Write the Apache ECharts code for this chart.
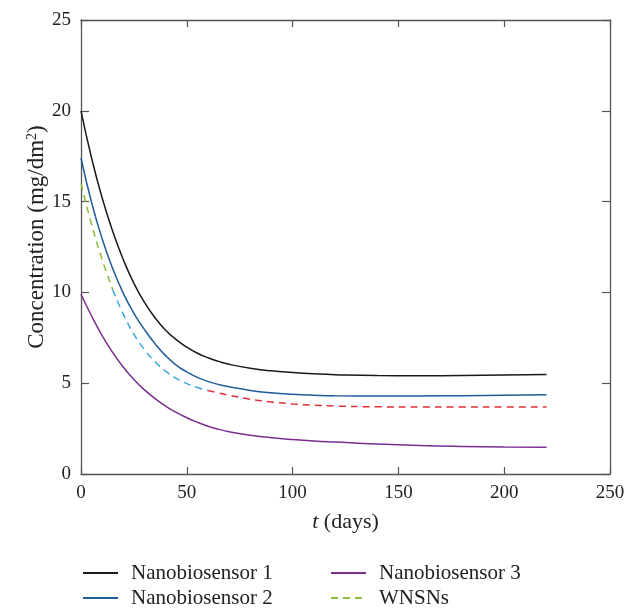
<!DOCTYPE html>
<html>
<head>
<meta charset="utf-8">
<script src="https://cdn.jsdelivr.net/npm/echarts@6/dist/echarts.min.js"></script>
<style>html,body{margin:0;padding:0;background:#fff;}#c{width:635px;height:608px;}</style>
</head>
<body>
<div id="c"></div>
<script>
var days  = [0,5,10,15,20,25,30,35,40,45,50,55,60,65,70,80,90,100,110,120,140,160,180,200,220];
var nano1 = [20.0,17.4,15.2,13.35,11.8,10.5,9.45,8.6,7.92,7.4,6.98,6.65,6.4,6.2,6.04,5.82,5.68,5.59,5.52,5.47,5.42,5.41,5.42,5.45,5.48];
var nano2 = [17.4,14.95,12.95,11.3,9.95,8.85,7.95,7.17,6.52,6.0,5.62,5.32,5.1,4.93,4.8,4.6,4.47,4.39,4.34,4.31,4.3,4.3,4.31,4.33,4.36];
var nano3 = [9.9,8.7,7.62,6.68,5.88,5.2,4.63,4.15,3.74,3.39,3.1,2.85,2.63,2.46,2.33,2.13,2.0,1.9,1.82,1.76,1.65,1.57,1.52,1.49,1.47];
var wnsn  = [16.0,13.75,11.8,10.15,8.8,7.7,6.85,6.18,5.66,5.27,4.98,4.76,4.6,4.46,4.34,4.12,3.97,3.86,3.79,3.74,3.7,3.69,3.69,3.69,3.69];
// WNSNs colour segments (index ranges in days[])
var segGreenEnd = 3, segBlueEnd = 12;
var xTicks = [0,50,100,150,200,250];
var yTicks = [0,5,10,15,20,25];
var names = ['Nanobiosensor 1','Nanobiosensor 2','Nanobiosensor 3','WNSNs'];

function pairs(arr, a, b) {
  var out = [];
  for (var i = a; i <= b; i++) out.push([days[i], arr[i]]);
  return out;
}
var last = days.length - 1;
var font = '"Liberation Serif", "DejaVu Serif", serif';
var axisCol = '#555';
var txt = '#222';

function xAx(pos, labels) {
  return {
    type: 'value', position: pos, min: xTicks[0], max: xTicks[xTicks.length-1], interval: 50,
    axisLine: { show: true, onZero: false, lineStyle: { color: axisCol, width: 1.3 } },
    axisTick: { show: true, inside: true, length: 7, lineStyle: { color: axisCol, width: 1.2 } },
    axisLabel: { show: labels, fontFamily: font, fontSize: 19, color: txt, margin: 10 },
    splitLine: { show: false }
  };
}
function yAx(pos, labels) {
  return {
    type: 'value', position: pos, min: yTicks[0], max: yTicks[yTicks.length-1], interval: 5,
    axisLine: { show: true, onZero: false, lineStyle: { color: axisCol, width: 1.3 } },
    axisTick: { show: true, inside: true, length: 8, lineStyle: { color: axisCol, width: 1.2 } },
    axisLabel: { show: labels, fontFamily: font, fontSize: 19, color: txt, margin: 10 },
    splitLine: { show: false }
  };
}
var xb = xAx('bottom', true);
xb.name = '{i|t} (days)'; xb.nameLocation = 'middle'; xb.nameGap = 37;
xb.nameTextStyle = { fontFamily: font, fontSize: 22, color: txt,
  rich: { i: { fontFamily: font, fontSize: 22, fontStyle: 'italic', color: txt } } };
var yl = yAx('left', true);
yl.name = '{a|Concentration (mg/dm}{s|2}{a|)}'; yl.nameLocation = 'middle'; yl.nameGap = 33; yl.nameRotate = 90;
yl.nameMoveOverlap = false;
yl.nameTextStyle = { fontFamily: font, fontSize: 23, color: txt, padding: [0, 0, 0, 20],
  rich: { a: { fontFamily: font, fontSize: 23, color: txt },
          s: { fontFamily: font, fontSize: 14, color: txt, verticalAlign: 'top', padding: [0, 0, 9, 0] } } };

function leg(name, left, top) {
  return {
    data: [name], left: left, top: top, padding: 0, itemWidth: 35, itemHeight: 14,
    itemStyle: { opacity: 0 },
    textStyle: { fontFamily: font, fontSize: 21, color: txt, lineHeight: 22, padding: [0, 0, 0, 8] }
  };
}

var chart = echarts.init(document.getElementById('c'));
chart.setOption({
  animation: false,
  backgroundColor: '#fff',
  grid: { left: 81, right: 25, top: 20, bottom: 134, containLabel: false },
  xAxis: [xb, xAx('top', false)],
  yAxis: [yl, yAx('right', false)],
  legend: [leg(names[0], 82, 562), leg(names[1], 82, 587), leg(names[2], 330, 562), leg(names[3], 330, 587)],
  series: [
    { name: names[0], type: 'line', smooth: true, symbol: 'none', data: pairs(nano1, 0, last),
      lineStyle: { color: '#1a1a1a', width: 1.5 }, itemStyle: { color: '#1a1a1a' } },
    { name: names[1], type: 'line', smooth: true, symbol: 'none', data: pairs(nano2, 0, last),
      lineStyle: { color: '#1f5c9a', width: 1.5 }, itemStyle: { color: '#1f5c9a' } },
    { name: names[2], type: 'line', smooth: true, symbol: 'none', data: pairs(nano3, 0, last),
      lineStyle: { color: '#7b2d90', width: 1.5 }, itemStyle: { color: '#7b2d90' } },
    { name: names[3], type: 'line', smooth: true, symbol: 'none', data: pairs(wnsn, 0, segGreenEnd),
      lineStyle: { color: '#8cbd3a', width: 1.5, type: [7, 5] }, itemStyle: { color: '#8cbd3a' } },
    { name: 'WNSNs-b', type: 'line', smooth: true, symbol: 'none', data: pairs(wnsn, segGreenEnd, segBlueEnd),
      lineStyle: { color: '#3aa9e0', width: 1.5, type: [7, 5] }, itemStyle: { color: '#3aa9e0' } },
    { name: 'WNSNs-r', type: 'line', smooth: true, symbol: 'none', data: pairs(wnsn, segBlueEnd, last),
      lineStyle: { color: '#e0303c', width: 1.5, type: [7, 5] }, itemStyle: { color: '#e0303c' } }
  ]
});
</script>
</body>
</html>
